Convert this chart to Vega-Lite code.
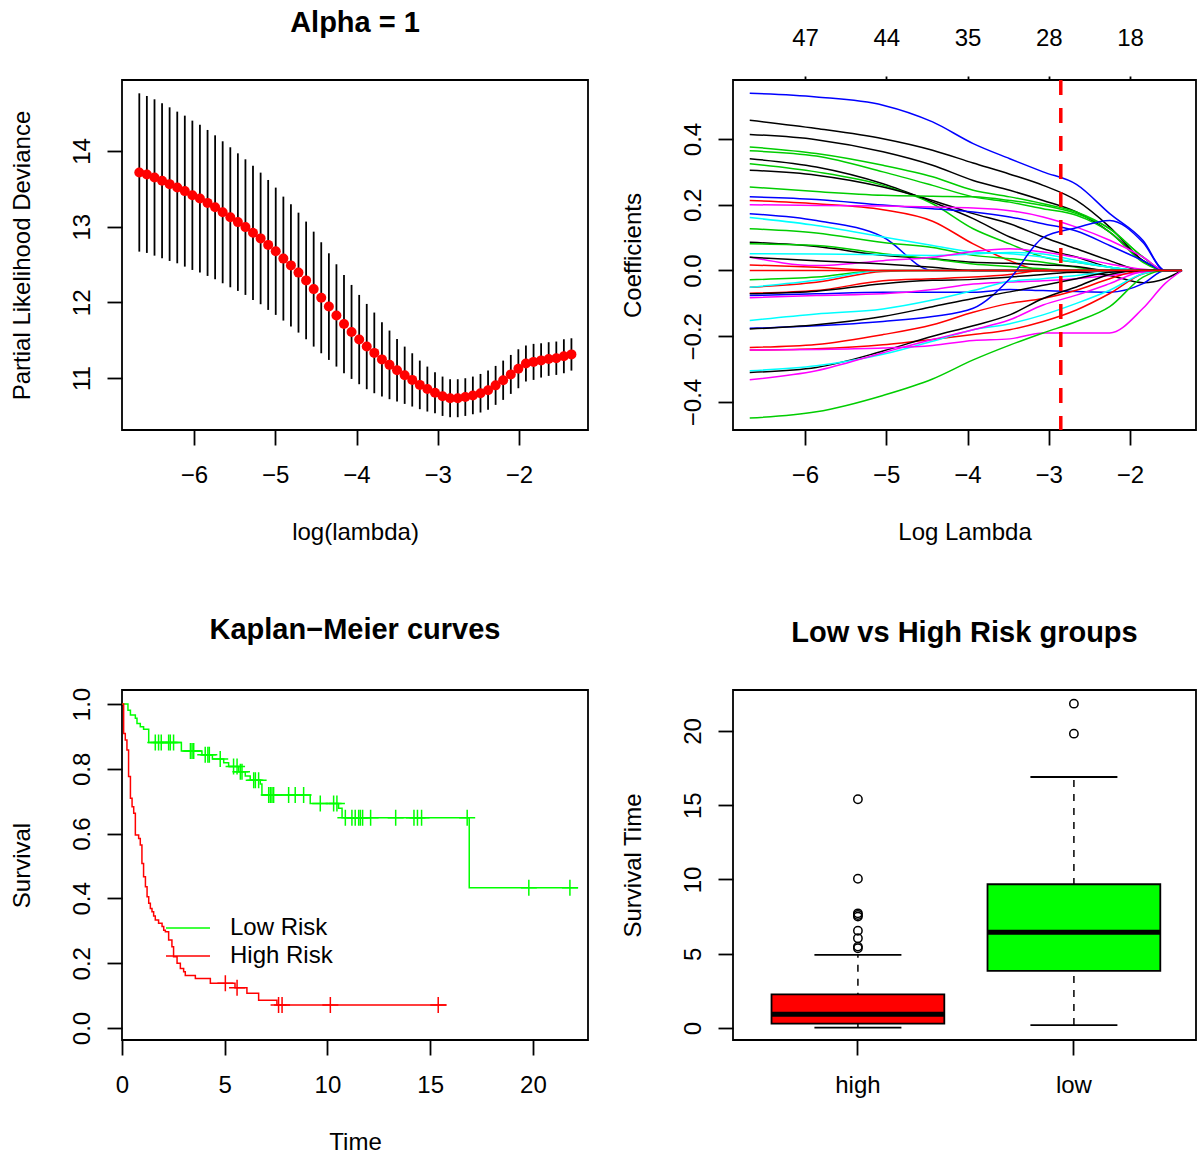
{
"$schema": "https://vega.github.io/schema/vega-lite/v6.json",
"background": "white",
"padding": {"left": 9, "top": 8, "right": 0, "bottom": 0},
"resolve": {"scale": {"color": "independent", "fill": "independent", "stroke": "independent"}, "legend": {"color": "independent", "fill": "independent", "stroke": "independent"}},
"config": {
  "font": "Liberation Sans",
  "view": {"stroke": "black", "strokeWidth": 1.8},
  "axis": {"domain": false, "grid": false, "ticks": true, "tickColor": "black", "tickWidth": 1.8, "tickSize": 15, "labelFont": "Liberation Sans", "labelFontSize": 24, "labelColor": "black", "labelFlush": false, "labelOverlap": false, "titleFont": "Liberation Sans", "titleFontSize": 24, "titleFontWeight": "normal", "titleColor": "black"},
  "axisBottom": {"labelAngle": 0, "labelBaseline": "middle", "labelPadding": 30, "titleY": 102, "titleBaseline": "middle"},
  "axisLeft": {"labelAngle": 270, "labelAlign": "center", "labelBaseline": "middle", "labelPadding": 25, "titleX": -100, "titleAngle": 270, "titleBaseline": "middle", "titleAlign": "center"},
  "title": {"font": "Liberation Sans", "fontSize": 29, "fontWeight": "bold", "color": "black", "frame": "group", "anchor": "middle", "offset": 42, "baseline": "alphabetic"}
},
"datasets": {
  "cv": [
    {"x":-6.673,"lo":12.670,"hi":14.762,"m":13.716},{"x":-6.580,"lo":12.653,"hi":14.727,"m":13.690},{"x":-6.486,"lo":12.617,"hi":14.683,"m":13.650},{"x":-6.393,"lo":12.582,"hi":14.630,"m":13.606},{"x":-6.300,"lo":12.547,"hi":14.577,"m":13.562},{"x":-6.206,"lo":12.516,"hi":14.520,"m":13.518},{"x":-6.113,"lo":12.472,"hi":14.467,"m":13.470},{"x":-6.020,"lo":12.428,"hi":14.401,"m":13.415},{"x":-5.927,"lo":12.393,"hi":14.348,"m":13.371},{"x":-5.833,"lo":12.349,"hi":14.278,"m":13.314},
    {"x":-5.740,"lo":12.305,"hi":14.207,"m":13.256},{"x":-5.647,"lo":12.252,"hi":14.128,"m":13.190},{"x":-5.553,"lo":12.199,"hi":14.049,"m":13.124},{"x":-5.460,"lo":12.151,"hi":13.969,"m":13.060},{"x":-5.367,"lo":12.098,"hi":13.890,"m":12.994},{"x":-5.274,"lo":12.032,"hi":13.806,"m":12.919},{"x":-5.180,"lo":11.975,"hi":13.714,"m":12.845},{"x":-5.087,"lo":11.900,"hi":13.617,"m":12.759},{"x":-4.994,"lo":11.834,"hi":13.516,"m":12.675},{"x":-4.900,"lo":11.759,"hi":13.397,"m":12.578},
    {"x":-4.807,"lo":11.680,"hi":13.296,"m":12.488},{"x":-4.714,"lo":11.600,"hi":13.185,"m":12.393},{"x":-4.620,"lo":11.512,"hi":13.067,"m":12.290},{"x":-4.527,"lo":11.415,"hi":12.934,"m":12.175},{"x":-4.434,"lo":11.327,"hi":12.794,"m":12.061},{"x":-4.340,"lo":11.239,"hi":12.648,"m":11.944},{"x":-4.247,"lo":11.151,"hi":12.503,"m":11.827},{"x":-4.154,"lo":11.063,"hi":12.362,"m":11.713},{"x":-4.061,"lo":10.988,"hi":12.230,"m":11.609},{"x":-3.967,"lo":10.918,"hi":12.098,"m":11.508},
    {"x":-3.874,"lo":10.852,"hi":11.979,"m":11.416},{"x":-3.781,"lo":10.799,"hi":11.865,"m":11.332},{"x":-3.687,"lo":10.755,"hi":11.737,"m":11.246},{"x":-3.594,"lo":10.720,"hi":11.627,"m":11.174},{"x":-3.501,"lo":10.689,"hi":11.517,"m":11.103},{"x":-3.407,"lo":10.658,"hi":11.415,"m":11.037},{"x":-3.314,"lo":10.623,"hi":11.327,"m":10.975},{"x":-3.221,"lo":10.588,"hi":11.230,"m":10.909},{"x":-3.128,"lo":10.557,"hi":11.151,"m":10.854},{"x":-3.034,"lo":10.535,"hi":11.076,"m":10.806},
    {"x":-2.941,"lo":10.499,"hi":11.019,"m":10.759},{"x":-2.848,"lo":10.482,"hi":10.984,"m":10.733},{"x":-2.754,"lo":10.482,"hi":10.984,"m":10.733},{"x":-2.661,"lo":10.499,"hi":10.997,"m":10.748},{"x":-2.568,"lo":10.521,"hi":11.019,"m":10.770},{"x":-2.474,"lo":10.544,"hi":11.054,"m":10.799},{"x":-2.381,"lo":10.579,"hi":11.098,"m":10.839},{"x":-2.288,"lo":10.645,"hi":11.160,"m":10.903},{"x":-2.195,"lo":10.711,"hi":11.230,"m":10.971},{"x":-2.101,"lo":10.790,"hi":11.305,"m":11.048},
    {"x":-2.008,"lo":10.865,"hi":11.380,"m":11.123},{"x":-1.915,"lo":10.953,"hi":11.429,"m":11.191},{"x":-1.821,"lo":10.975,"hi":11.451,"m":11.213},{"x":-1.728,"lo":11.006,"hi":11.459,"m":11.233},{"x":-1.635,"lo":11.028,"hi":11.473,"m":11.251},{"x":-1.541,"lo":11.041,"hi":11.482,"m":11.262},{"x":-1.448,"lo":11.063,"hi":11.512,"m":11.288},{"x":-1.355,"lo":11.098,"hi":11.525,"m":11.312}
  ],
  "coef": [
    {"v":"V01","x":-6.68,"b":0.539},{"v":"V01","x":-5.86,"b":0.528},{"v":"V01","x":-5.04,"b":0.503},{"v":"V01","x":-4.43,"b":0.452},{"v":"V01","x":-3.93,"b":0.386},{"v":"V01","x":-3.48,"b":0.340},{"v":"V01","x":-3.07,"b":0.300},{"v":"V01","x":-2.66,"b":0.262},{"v":"V01","x":-2.25,"b":0.173},{"v":"V01","x":-1.84,"b":0.091},{"v":"V01","x":-1.57,"b":0},{"v":"V01","x":-1.36,"b":0},
    {"v":"V02","x":-6.68,"b":0.457},{"v":"V02","x":-5.86,"b":0.432},{"v":"V02","x":-5.04,"b":0.401},{"v":"V02","x":-4.43,"b":0.366},{"v":"V02","x":-3.93,"b":0.327},{"v":"V02","x":-3.48,"b":0.293},{"v":"V02","x":-3.07,"b":0.259},{"v":"V02","x":-2.66,"b":0.213},{"v":"V02","x":-2.25,"b":0.132},{"v":"V02","x":-1.84,"b":0.030},{"v":"V02","x":-1.57,"b":0},{"v":"V02","x":-1.36,"b":0},
    {"v":"V03","x":-6.68,"b":0.414},{"v":"V03","x":-5.86,"b":0.398},{"v":"V03","x":-5.04,"b":0.361},{"v":"V03","x":-4.43,"b":0.320},{"v":"V03","x":-3.93,"b":0.274},{"v":"V03","x":-3.48,"b":0.244},{"v":"V03","x":-3.07,"b":0.213},{"v":"V03","x":-2.66,"b":0.178},{"v":"V03","x":-2.25,"b":0.117},{"v":"V03","x":-1.84,"b":0.030},{"v":"V03","x":-1.57,"b":0},{"v":"V03","x":-1.36,"b":0},
    {"v":"V04","x":-6.68,"b":0.376},{"v":"V04","x":-5.86,"b":0.356},{"v":"V04","x":-5.04,"b":0.320},{"v":"V04","x":-4.43,"b":0.285},{"v":"V04","x":-3.93,"b":0.244},{"v":"V04","x":-3.48,"b":0.224},{"v":"V04","x":-3.07,"b":0.203},{"v":"V04","x":-2.66,"b":0.178},{"v":"V04","x":-2.25,"b":0.127},{"v":"V04","x":-1.84,"b":0.041},{"v":"V04","x":-1.57,"b":0},{"v":"V04","x":-1.36,"b":0},
    {"v":"V05","x":-6.68,"b":0.364},{"v":"V05","x":-5.86,"b":0.348},{"v":"V05","x":-5.04,"b":0.300},{"v":"V05","x":-4.43,"b":0.259},{"v":"V05","x":-3.93,"b":0.224},{"v":"V05","x":-3.48,"b":0.208},{"v":"V05","x":-3.07,"b":0.188},{"v":"V05","x":-2.66,"b":0.168},{"v":"V05","x":-2.25,"b":0.117},{"v":"V05","x":-1.84,"b":0.025},{"v":"V05","x":-1.57,"b":0},{"v":"V05","x":-1.36,"b":0},
    {"v":"V06","x":-6.68,"b":0.340},{"v":"V06","x":-5.86,"b":0.315},{"v":"V06","x":-5.04,"b":0.264},{"v":"V06","x":-4.43,"b":0.208},{"v":"V06","x":-3.93,"b":0.158},{"v":"V06","x":-3.48,"b":0.102},{"v":"V06","x":-3.07,"b":0.066},{"v":"V06","x":-2.66,"b":0.041},{"v":"V06","x":-2.25,"b":0.010},{"v":"V06","x":-1.84,"b":0},{"v":"V06","x":-1.36,"b":0},
    {"v":"V07","x":-6.68,"b":0.325},{"v":"V07","x":-5.86,"b":0.300},{"v":"V07","x":-5.04,"b":0.259},{"v":"V07","x":-4.43,"b":0.203},{"v":"V07","x":-3.93,"b":0.127},{"v":"V07","x":-3.48,"b":0.081},{"v":"V07","x":-3.07,"b":0.041},{"v":"V07","x":-2.66,"b":0.025},{"v":"V07","x":-2.25,"b":0.010},{"v":"V07","x":-1.84,"b":0},{"v":"V07","x":-1.36,"b":0},
    {"v":"V08","x":-6.68,"b":0.305},{"v":"V08","x":-5.86,"b":0.290},{"v":"V08","x":-5.04,"b":0.254},{"v":"V08","x":-4.43,"b":0.213},{"v":"V08","x":-3.93,"b":0.173},{"v":"V08","x":-3.48,"b":0.142},{"v":"V08","x":-3.07,"b":0.102},{"v":"V08","x":-2.66,"b":0.066},{"v":"V08","x":-2.25,"b":0.030},{"v":"V08","x":-1.84,"b":0},{"v":"V08","x":-1.36,"b":0},
    {"v":"V09","x":-6.68,"b":0.254},{"v":"V09","x":-5.86,"b":0.240},{"v":"V09","x":-5.04,"b":0.229},{"v":"V09","x":-4.43,"b":0.226},{"v":"V09","x":-3.93,"b":0.224},{"v":"V09","x":-3.48,"b":0.213},{"v":"V09","x":-3.07,"b":0.198},{"v":"V09","x":-2.66,"b":0.173},{"v":"V09","x":-2.25,"b":0.127},{"v":"V09","x":-1.84,"b":0.041},{"v":"V09","x":-1.57,"b":0},{"v":"V09","x":-1.36,"b":0},
    {"v":"V10","x":-6.68,"b":0.224},{"v":"V10","x":-5.86,"b":0.216},{"v":"V10","x":-5.04,"b":0.199},{"v":"V10","x":-4.43,"b":0.188},{"v":"V10","x":-3.93,"b":0.178},{"v":"V10","x":-3.48,"b":0.163},{"v":"V10","x":-3.07,"b":0.142},{"v":"V10","x":-2.66,"b":0.120},{"v":"V10","x":-2.25,"b":0.076},{"v":"V10","x":-1.84,"b":0.030},{"v":"V10","x":-1.57,"b":0},{"v":"V10","x":-1.36,"b":0},
    {"v":"V11","x":-6.68,"b":0.213},{"v":"V11","x":-5.86,"b":0.203},{"v":"V11","x":-5.04,"b":0.185},{"v":"V11","x":-4.43,"b":0.150},{"v":"V11","x":-3.93,"b":0.081},{"v":"V11","x":-3.48,"b":0.030},{"v":"V11","x":-3.07,"b":0},{"v":"V11","x":-1.36,"b":0},
    {"v":"V12","x":-6.68,"b":0.200},{"v":"V12","x":-5.86,"b":0.198},{"v":"V12","x":-5.04,"b":0.196},{"v":"V12","x":-4.43,"b":0.193},{"v":"V12","x":-3.93,"b":0.190},{"v":"V12","x":-3.48,"b":0.182},{"v":"V12","x":-3.07,"b":0.163},{"v":"V12","x":-2.66,"b":0.132},{"v":"V12","x":-2.25,"b":0.092},{"v":"V12","x":-1.84,"b":0.041},{"v":"V12","x":-1.57,"b":0},{"v":"V12","x":-1.36,"b":0},
    {"v":"V13","x":-6.68,"b":0.173},{"v":"V13","x":-5.86,"b":0.152},{"v":"V13","x":-5.04,"b":0.102},{"v":"V13","x":-4.43,"b":0},{"v":"V13","x":-1.36,"b":0},
    {"v":"V14","x":-6.68,"b":0.161},{"v":"V14","x":-5.86,"b":0.137},{"v":"V14","x":-5.04,"b":0.102},{"v":"V14","x":-4.43,"b":0.076},{"v":"V14","x":-3.93,"b":0.056},{"v":"V14","x":-3.48,"b":0.051},{"v":"V14","x":-3.07,"b":0.041},{"v":"V14","x":-2.66,"b":0.025},{"v":"V14","x":-2.25,"b":0.010},{"v":"V14","x":-1.84,"b":0},{"v":"V14","x":-1.36,"b":0},
    {"v":"V15","x":-6.68,"b":0.127},{"v":"V15","x":-5.86,"b":0.114},{"v":"V15","x":-5.04,"b":0.085},{"v":"V15","x":-4.43,"b":0.070},{"v":"V15","x":-3.93,"b":0.046},{"v":"V15","x":-3.48,"b":0.036},{"v":"V15","x":-3.07,"b":0.025},{"v":"V15","x":-2.66,"b":0.010},{"v":"V15","x":-2.25,"b":0},{"v":"V15","x":-1.36,"b":0},
    {"v":"V16","x":-6.68,"b":0.086},{"v":"V16","x":-5.86,"b":0.073},{"v":"V16","x":-5.04,"b":0.046},{"v":"V16","x":-4.43,"b":0.036},{"v":"V16","x":-3.93,"b":0.025},{"v":"V16","x":-3.48,"b":0.022},{"v":"V16","x":-3.07,"b":0.017},{"v":"V16","x":-2.66,"b":0.012},{"v":"V16","x":-2.25,"b":0},{"v":"V16","x":-1.36,"b":0},
    {"v":"V17","x":-6.68,"b":0.081},{"v":"V17","x":-5.86,"b":0.076},{"v":"V17","x":-5.04,"b":0.051},{"v":"V17","x":-4.43,"b":0.035},{"v":"V17","x":-3.93,"b":0.020},{"v":"V17","x":-3.48,"b":0.012},{"v":"V17","x":-3.07,"b":0.005},{"v":"V17","x":-2.66,"b":0},{"v":"V17","x":-1.36,"b":0},
    {"v":"V18","x":-6.68,"b":0.051},{"v":"V18","x":-5.86,"b":0.050},{"v":"V18","x":-5.04,"b":0.048},{"v":"V18","x":-4.43,"b":0.046},{"v":"V18","x":-3.93,"b":0.050},{"v":"V18","x":-3.48,"b":0.055},{"v":"V18","x":-3.07,"b":0.050},{"v":"V18","x":-2.66,"b":0.030},{"v":"V18","x":-2.25,"b":0.010},{"v":"V18","x":-1.84,"b":0},{"v":"V18","x":-1.36,"b":0},
    {"v":"V19","x":-6.68,"b":0.041},{"v":"V19","x":-5.86,"b":0.015},{"v":"V19","x":-5.04,"b":0.030},{"v":"V19","x":-4.43,"b":0.040},{"v":"V19","x":-3.93,"b":0.058},{"v":"V19","x":-3.48,"b":0.066},{"v":"V19","x":-3.07,"b":0.056},{"v":"V19","x":-2.66,"b":0.040},{"v":"V19","x":-2.25,"b":0.020},{"v":"V19","x":-1.84,"b":0.004},{"v":"V19","x":-1.57,"b":0},{"v":"V19","x":-1.36,"b":0},
    {"v":"V20","x":-6.68,"b":0.017},{"v":"V20","x":-5.86,"b":0.010},{"v":"V20","x":-5.04,"b":0},{"v":"V20","x":-1.36,"b":0},
    {"v":"V21","x":-6.68,"b":-0.051},{"v":"V21","x":-5.86,"b":-0.036},{"v":"V21","x":-5.04,"b":-0.003},{"v":"V21","x":-4.43,"b":0},{"v":"V21","x":-1.36,"b":0},
    {"v":"V22","x":-6.68,"b":-0.028},{"v":"V22","x":-5.86,"b":-0.020},{"v":"V22","x":-5.04,"b":0},{"v":"V22","x":-1.36,"b":0},
    {"v":"V23","x":-6.68,"b":-0.051},{"v":"V23","x":-5.86,"b":-0.030},{"v":"V23","x":-5.04,"b":0},{"v":"V23","x":-1.36,"b":0},
    {"v":"V24","x":-6.68,"b":-0.069},{"v":"V24","x":-5.86,"b":-0.061},{"v":"V24","x":-5.04,"b":-0.031},{"v":"V24","x":-4.43,"b":-0.025},{"v":"V24","x":-3.93,"b":-0.020},{"v":"V24","x":-3.48,"b":-0.012},{"v":"V24","x":-3.07,"b":0},{"v":"V24","x":-1.36,"b":0},
    {"v":"V25","x":-6.68,"b":-0.071},{"v":"V25","x":-5.86,"b":-0.063},{"v":"V25","x":-5.04,"b":-0.040},{"v":"V25","x":-4.43,"b":-0.030},{"v":"V25","x":-3.93,"b":-0.027},{"v":"V25","x":-3.48,"b":-0.020},{"v":"V25","x":-3.07,"b":-0.012},{"v":"V25","x":-2.66,"b":-0.005},{"v":"V25","x":-2.25,"b":-0.015},{"v":"V25","x":-1.84,"b":-0.037},{"v":"V25","x":-1.57,"b":-0.025},{"v":"V25","x":-1.36,"b":0},
    {"v":"V26","x":-6.68,"b":-0.076},{"v":"V26","x":-5.86,"b":-0.071},{"v":"V26","x":-5.04,"b":-0.066},{"v":"V26","x":-4.43,"b":-0.066},{"v":"V26","x":-3.93,"b":-0.066},{"v":"V26","x":-3.48,"b":-0.058},{"v":"V26","x":-3.07,"b":-0.061},{"v":"V26","x":-2.66,"b":-0.064},{"v":"V26","x":-2.25,"b":-0.066},{"v":"V26","x":-1.84,"b":-0.040},{"v":"V26","x":-1.57,"b":0},{"v":"V26","x":-1.36,"b":0},
    {"v":"V27","x":-6.68,"b":-0.083},{"v":"V27","x":-5.86,"b":-0.076},{"v":"V27","x":-5.04,"b":-0.071},{"v":"V27","x":-4.43,"b":-0.058},{"v":"V27","x":-3.93,"b":-0.041},{"v":"V27","x":-3.48,"b":-0.035},{"v":"V27","x":-3.07,"b":-0.031},{"v":"V27","x":-2.66,"b":-0.025},{"v":"V27","x":-2.25,"b":-0.015},{"v":"V27","x":-1.84,"b":-0.005},{"v":"V27","x":-1.57,"b":0},{"v":"V27","x":-1.36,"b":0},
    {"v":"V28","x":-6.68,"b":-0.152},{"v":"V28","x":-5.86,"b":-0.132},{"v":"V28","x":-5.04,"b":-0.117},{"v":"V28","x":-4.43,"b":-0.090},{"v":"V28","x":-3.93,"b":-0.061},{"v":"V28","x":-3.48,"b":-0.033},{"v":"V28","x":-3.07,"b":-0.025},{"v":"V28","x":-2.66,"b":-0.015},{"v":"V28","x":-2.25,"b":-0.005},{"v":"V28","x":-1.84,"b":0},{"v":"V28","x":-1.36,"b":0},
    {"v":"V29","x":-6.68,"b":-0.176},{"v":"V29","x":-5.86,"b":-0.168},{"v":"V29","x":-5.04,"b":-0.155},{"v":"V29","x":-4.43,"b":-0.140},{"v":"V29","x":-3.93,"b":-0.115},{"v":"V29","x":-3.48,"b":-0.025},{"v":"V29","x":-3.07,"b":0.100},{"v":"V29","x":-2.66,"b":0.130},{"v":"V29","x":-2.25,"b":0.152},{"v":"V29","x":-1.84,"b":0.085},{"v":"V29","x":-1.57,"b":0},{"v":"V29","x":-1.36,"b":0},
    {"v":"V30","x":-6.68,"b":-0.178},{"v":"V30","x":-5.86,"b":-0.165},{"v":"V30","x":-5.04,"b":-0.140},{"v":"V30","x":-4.43,"b":-0.110},{"v":"V30","x":-3.93,"b":-0.085},{"v":"V30","x":-3.48,"b":-0.065},{"v":"V30","x":-3.07,"b":-0.045},{"v":"V30","x":-2.66,"b":-0.025},{"v":"V30","x":-2.25,"b":-0.005},{"v":"V30","x":-1.84,"b":0},{"v":"V30","x":-1.36,"b":0},
    {"v":"V31","x":-6.68,"b":-0.234},{"v":"V31","x":-5.86,"b":-0.225},{"v":"V31","x":-5.04,"b":-0.195},{"v":"V31","x":-4.43,"b":-0.165},{"v":"V31","x":-3.93,"b":-0.127},{"v":"V31","x":-3.48,"b":-0.100},{"v":"V31","x":-3.07,"b":-0.085},{"v":"V31","x":-2.66,"b":-0.060},{"v":"V31","x":-2.25,"b":-0.025},{"v":"V31","x":-1.84,"b":0},{"v":"V31","x":-1.36,"b":0},
    {"v":"V32","x":-6.68,"b":-0.242},{"v":"V32","x":-5.86,"b":-0.238},{"v":"V32","x":-5.04,"b":-0.226},{"v":"V32","x":-4.43,"b":-0.210},{"v":"V32","x":-3.93,"b":-0.195},{"v":"V32","x":-3.48,"b":-0.180},{"v":"V32","x":-3.07,"b":-0.155},{"v":"V32","x":-2.66,"b":-0.120},{"v":"V32","x":-2.25,"b":-0.070},{"v":"V32","x":-1.84,"b":-0.010},{"v":"V32","x":-1.57,"b":0},{"v":"V32","x":-1.36,"b":0},
    {"v":"V33","x":-6.68,"b":-0.310},{"v":"V33","x":-5.86,"b":-0.295},{"v":"V33","x":-5.04,"b":-0.245},{"v":"V33","x":-4.43,"b":-0.200},{"v":"V33","x":-3.93,"b":-0.168},{"v":"V33","x":-3.48,"b":-0.135},{"v":"V33","x":-3.07,"b":-0.085},{"v":"V33","x":-2.66,"b":-0.050},{"v":"V33","x":-2.25,"b":-0.012},{"v":"V33","x":-1.84,"b":0},{"v":"V33","x":-1.36,"b":0},
    {"v":"V34","x":-6.68,"b":-0.305},{"v":"V34","x":-5.86,"b":-0.290},{"v":"V34","x":-5.04,"b":-0.255},{"v":"V34","x":-4.43,"b":-0.215},{"v":"V34","x":-3.93,"b":-0.180},{"v":"V34","x":-3.48,"b":-0.162},{"v":"V34","x":-3.07,"b":-0.135},{"v":"V34","x":-2.66,"b":-0.100},{"v":"V34","x":-2.25,"b":-0.060},{"v":"V34","x":-1.84,"b":-0.010},{"v":"V34","x":-1.57,"b":0},{"v":"V34","x":-1.36,"b":0},
    {"v":"V35","x":-6.68,"b":-0.332},{"v":"V35","x":-5.86,"b":-0.305},{"v":"V35","x":-5.04,"b":-0.250},{"v":"V35","x":-4.43,"b":-0.210},{"v":"V35","x":-3.93,"b":-0.180},{"v":"V35","x":-3.48,"b":-0.150},{"v":"V35","x":-3.07,"b":-0.105},{"v":"V35","x":-2.66,"b":-0.075},{"v":"V35","x":-2.25,"b":-0.040},{"v":"V35","x":-1.84,"b":-0.003},{"v":"V35","x":-1.57,"b":0},{"v":"V35","x":-1.36,"b":0},
    {"v":"V36","x":-6.68,"b":-0.242},{"v":"V36","x":-5.86,"b":-0.240},{"v":"V36","x":-5.04,"b":-0.236},{"v":"V36","x":-4.43,"b":-0.228},{"v":"V36","x":-3.93,"b":-0.213},{"v":"V36","x":-3.48,"b":-0.208},{"v":"V36","x":-3.07,"b":-0.190},{"v":"V36","x":-2.66,"b":-0.190},{"v":"V36","x":-2.25,"b":-0.190},{"v":"V36","x":-1.84,"b":-0.115},{"v":"V36","x":-1.57,"b":-0.040},{"v":"V36","x":-1.36,"b":0},
    {"v":"V37","x":-6.68,"b":-0.449},{"v":"V37","x":-5.86,"b":-0.430},{"v":"V37","x":-5.04,"b":-0.380},{"v":"V37","x":-4.43,"b":-0.330},{"v":"V37","x":-3.93,"b":-0.272},{"v":"V37","x":-3.48,"b":-0.227},{"v":"V37","x":-3.07,"b":-0.190},{"v":"V37","x":-2.66,"b":-0.155},{"v":"V37","x":-2.25,"b":-0.110},{"v":"V37","x":-1.84,"b":-0.020},{"v":"V37","x":-1.57,"b":0},{"v":"V37","x":-1.36,"b":0},
    {"v":"V38","x":-6.68,"b":0.040},{"v":"V38","x":-5.86,"b":0.030},{"v":"V38","x":-5.04,"b":0.020},{"v":"V38","x":-4.43,"b":0.010},{"v":"V38","x":-3.93,"b":0},{"v":"V38","x":-1.36,"b":0},
    {"v":"V39","x":-6.68,"b":0},{"v":"V39","x":-1.36,"b":0}
  ],
  "lmin": [{"x": -2.852}],
  "km": [
    {"risk":"Low Risk","t":0,"s":1},{"risk":"Low Risk","t":0.29,"s":0.981},{"risk":"Low Risk","t":0.41,"s":0.966},{"risk":"Low Risk","t":0.65,"s":0.956},{"risk":"Low Risk","t":0.73,"s":0.94},{"risk":"Low Risk","t":0.89,"s":0.93},{"risk":"Low Risk","t":1.05,"s":0.922},{"risk":"Low Risk","t":1.3,"s":0.881},{"risk":"Low Risk","t":2.89,"s":0.855},{"risk":"Low Risk","t":3.89,"s":0.843},{"risk":"Low Risk","t":4.4,"s":0.83},{"risk":"Low Risk","t":4.95,"s":0.819},{"risk":"Low Risk","t":5.19,"s":0.807},{"risk":"Low Risk","t":5.68,"s":0.791},{"risk":"Low Risk","t":6.0,"s":0.778},{"risk":"Low Risk","t":6.24,"s":0.765},{"risk":"Low Risk","t":6.73,"s":0.753},{"risk":"Low Risk","t":6.81,"s":0.719},{"risk":"Low Risk","t":9.16,"s":0.693},{"risk":"Low Risk","t":10.54,"s":0.678},{"risk":"Low Risk","t":10.71,"s":0.649},{"risk":"Low Risk","t":16.9,"s":0.433},{"risk":"Low Risk","t":22.2,"s":0.433},
    {"risk":"High Risk","t":0,"s":1},{"risk":"High Risk","t":0.08,"s":0.909},{"risk":"High Risk","t":0.16,"s":0.889},{"risk":"High Risk","t":0.24,"s":0.858},{"risk":"High Risk","t":0.32,"s":0.776},{"risk":"High Risk","t":0.41,"s":0.709},{"risk":"High Risk","t":0.49,"s":0.683},{"risk":"High Risk","t":0.57,"s":0.663},{"risk":"High Risk","t":0.65,"s":0.596},{"risk":"High Risk","t":0.81,"s":0.585},{"risk":"High Risk","t":0.89,"s":0.565},{"risk":"High Risk","t":0.97,"s":0.508},{"risk":"High Risk","t":1.05,"s":0.467},{"risk":"High Risk","t":1.14,"s":0.436},{"risk":"High Risk","t":1.22,"s":0.405},{"risk":"High Risk","t":1.3,"s":0.385},{"risk":"High Risk","t":1.38,"s":0.369},{"risk":"High Risk","t":1.46,"s":0.359},{"risk":"High Risk","t":1.54,"s":0.346},{"risk":"High Risk","t":1.62,"s":0.333},{"risk":"High Risk","t":1.78,"s":0.323},{"risk":"High Risk","t":1.95,"s":0.313},{"risk":"High Risk","t":2.03,"s":0.302},{"risk":"High Risk","t":2.11,"s":0.297},{"risk":"High Risk","t":2.27,"s":0.272},{"risk":"High Risk","t":2.43,"s":0.251},{"risk":"High Risk","t":2.51,"s":0.22},{"risk":"High Risk","t":2.68,"s":0.2},{"risk":"High Risk","t":2.84,"s":0.184},{"risk":"High Risk","t":3.0,"s":0.174},{"risk":"High Risk","t":3.08,"s":0.162},{"risk":"High Risk","t":3.57,"s":0.153},{"risk":"High Risk","t":4.3,"s":0.138},{"risk":"High Risk","t":5.5,"s":0.124},{"risk":"High Risk","t":6.08,"s":0.107},{"risk":"High Risk","t":6.65,"s":0.086},{"risk":"High Risk","t":7.54,"s":0.071},{"risk":"High Risk","t":15.8,"s":0.071}
  ],
  "cens": [
    {"risk":"Low Risk","t":1.62,"s":0.881},{"risk":"Low Risk","t":1.78,"s":0.881},{"risk":"Low Risk","t":1.91,"s":0.881},{"risk":"Low Risk","t":2.27,"s":0.881},{"risk":"Low Risk","t":2.35,"s":0.881},{"risk":"Low Risk","t":2.51,"s":0.881},
    {"risk":"Low Risk","t":3.33,"s":0.855},{"risk":"Low Risk","t":3.41,"s":0.855},{"risk":"Low Risk","t":3.49,"s":0.855},
    {"risk":"Low Risk","t":4.05,"s":0.843},{"risk":"Low Risk","t":4.18,"s":0.843},{"risk":"Low Risk","t":4.25,"s":0.843},
    {"risk":"Low Risk","t":4.78,"s":0.83},{"risk":"Low Risk","t":5.43,"s":0.807},{"risk":"Low Risk","t":5.6,"s":0.807},{"risk":"Low Risk","t":5.76,"s":0.791},{"risk":"Low Risk","t":5.84,"s":0.791},
    {"risk":"Low Risk","t":6.41,"s":0.765},{"risk":"Low Risk","t":6.49,"s":0.765},{"risk":"Low Risk","t":6.65,"s":0.765},
    {"risk":"Low Risk","t":7.14,"s":0.719},{"risk":"Low Risk","t":7.22,"s":0.719},{"risk":"Low Risk","t":7.3,"s":0.719},{"risk":"Low Risk","t":7.38,"s":0.719},{"risk":"Low Risk","t":8.11,"s":0.719},{"risk":"Low Risk","t":8.43,"s":0.719},{"risk":"Low Risk","t":8.84,"s":0.719},
    {"risk":"Low Risk","t":9.65,"s":0.693},{"risk":"Low Risk","t":10.3,"s":0.693},{"risk":"Low Risk","t":10.46,"s":0.693},
    {"risk":"Low Risk","t":10.87,"s":0.649},{"risk":"Low Risk","t":11.19,"s":0.649},{"risk":"Low Risk","t":11.35,"s":0.649},{"risk":"Low Risk","t":11.52,"s":0.649},{"risk":"Low Risk","t":11.6,"s":0.649},{"risk":"Low Risk","t":11.71,"s":0.649},{"risk":"Low Risk","t":12.1,"s":0.649},{"risk":"Low Risk","t":13.32,"s":0.649},{"risk":"Low Risk","t":14.21,"s":0.649},{"risk":"Low Risk","t":14.38,"s":0.649},{"risk":"Low Risk","t":14.58,"s":0.649},{"risk":"Low Risk","t":16.8,"s":0.649},
    {"risk":"Low Risk","t":19.8,"s":0.433},{"risk":"Low Risk","t":21.8,"s":0.433},
    {"risk":"High Risk","t":5.03,"s":0.138},{"risk":"High Risk","t":5.6,"s":0.124},{"risk":"High Risk","t":7.62,"s":0.071},{"risk":"High Risk","t":7.79,"s":0.071},{"risk":"High Risk","t":10.14,"s":0.071},{"risk":"High Risk","t":15.39,"s":0.071}
  ],
  "box": [
    {"grp":"high","lo":0.02,"q1":0.29,"med":0.92,"q3":2.27,"hi":4.92},
    {"grp":"low","lo":0.2,"q1":3.84,"med":6.44,"q3":9.68,"hi":16.9}
  ],
  "out": [
    {"grp":"high","y":15.40},{"grp":"high","y":10.05},{"grp":"high","y":7.72},{"grp":"high","y":7.61},{"grp":"high","y":7.50},{"grp":"high","y":6.55},{"grp":"high","y":6.04},{"grp":"high","y":5.48},{"grp":"high","y":5.37},
    {"grp":"low","y":21.84},{"grp":"low","y":19.82}
  ]
},
"columns": 2,
"spacing": {"row": 260, "column": 145},
"bounds": "flush",
"concat": [
  {
    "width": 466, "height": 350,
    "title": {"text": "Alpha = 1"},
    "data": {"name": "cv"},
    "layer": [
      {"mark": {"type": "rule", "color": "black", "strokeWidth": 1.8},
       "encoding": {
         "x": {"field": "x", "type": "quantitative", "scale": {"domain": [-6.886, -1.151], "nice": false, "zero": false}, "axis": {"values": [-6, -5, -4, -3, -2], "format": "d", "title": "log(lambda)"}},
         "y": {"field": "lo", "type": "quantitative", "scale": {"domain": [10.313, 14.938], "nice": false, "zero": false}, "axis": {"values": [11, 12, 13, 14], "format": "d", "title": "Partial Likelihood Deviance"}},
         "y2": {"field": "hi"}
       }},
      {"mark": {"type": "point", "filled": true, "color": "#FF0000", "size": 100, "opacity": 1},
       "encoding": {
         "x": {"field": "x", "type": "quantitative"},
         "y": {"field": "m", "type": "quantitative"}
       }}
    ]
  },
  {
    "width": 463, "height": 350,
    "resolve": {"axis": {"x": "independent"}},
    "layer": [
      {"data": {"name": "coef"},
       "mark": {"type": "line", "strokeWidth": 1.5, "interpolate": "monotone"},
       "encoding": {
         "x": {"field": "x", "type": "quantitative", "scale": {"domain": [-6.886, -1.188], "nice": false, "zero": false}, "axis": {"values": [-6, -5, -4, -3, -2], "format": "d", "title": "Log Lambda"}},
         "y": {"field": "b", "type": "quantitative", "scale": {"domain": [-0.4852, 0.5795], "nice": false, "zero": false}, "axis": {"values": [-0.4, -0.2, 0, 0.2, 0.4], "format": ".1f", "title": "Coefficients"}},
         "color": {"field": "v", "type": "nominal", "legend": null, "scale": {
           "domain": ["V01","V02","V03","V04","V05","V06","V07","V08","V09","V10","V11","V12","V13","V14","V15","V16","V17","V18","V19","V20","V21","V22","V23","V24","V25","V26","V27","V28","V29","V30","V31","V32","V33","V34","V35","V36","V37","V38","V39"],
           "range": ["#0000FF","#000000","#000000","#00CD00","#00CD00","#000000","#00CD00","#000000","#00CD00","#0000FF","#FF0000","#FF00FF","#0000FF","#00FFFF","#00CD00","#000000","#00CD00","#00FFFF","#FF00FF","#FF0000","#FF0000","#00CD00","#00FFFF","#FF0000","#000000","#0000FF","#FF00FF","#00FFFF","#0000FF","#000000","#FF0000","#FF0000","#000000","#00FFFF","#FF00FF","#FF00FF","#00CD00","#000000","#FF0000"]}}
       }},
      {"data": {"name": "lmin"},
       "mark": {"type": "rule", "color": "#FF0000", "strokeWidth": 3.5, "strokeDash": [15, 13]},
       "encoding": {
         "x": {"field": "x", "type": "quantitative", "scale": {"domain": [-6.886, -1.188], "nice": false, "zero": false},
               "axis": {"orient": "top", "values": [-6, -5, -4, -3, -2], "title": null, "tickSize": 4, "labelPadding": 38, "labelBaseline": "middle", "labelAngle": 0,
                        "labelExpr": "datum.value == -6 ? '47' : datum.value == -5 ? '44' : datum.value == -4 ? '35' : datum.value == -3 ? '28' : '18'"}}
       }}
    ]
  },
  {
    "width": 466, "height": 350,
    "title": {"text": "Kaplan−Meier curves"},
    "resolve": {"legend": {"color": "independent", "stroke": "independent"}},
    "layer": [
      {"data": {"name": "km"},
       "mark": {"type": "line", "interpolate": "step-after", "strokeWidth": 1.5},
       "encoding": {
         "x": {"field": "t", "type": "quantitative", "scale": {"domain": [0, 22.68], "nice": false, "zero": false}, "axis": {"values": [0, 5, 10, 15, 20], "format": "d", "title": "Time"}},
         "y": {"field": "s", "type": "quantitative", "scale": {"domain": [-0.037, 1.0432], "nice": false, "zero": false}, "axis": {"values": [0, 0.2, 0.4, 0.6, 0.8, 1.0], "format": ".1f", "title": "Survival"}},
         "color": {"field": "risk", "type": "nominal", "scale": {"domain": ["Low Risk", "High Risk"], "range": ["#00FF00", "#FF0000"]},
                   "legend": {"values": ["Low Risk"], "orient": "none", "legendX": 43, "legendY": 215, "title": null, "symbolType": "stroke", "symbolSize": 1936, "symbolStrokeWidth": 1.5, "labelFontSize": 24, "labelFont": "Liberation Sans", "labelColor": "black", "labelOffset": 19, "labelLimit": 0, "labelBaseline": "middle"}}
       }},
      {"data": {"name": "cens"},
       "mark": {"type": "point", "shape": "M-1,0H1M0,-1V1", "filled": false, "size": 256, "strokeWidth": 1.5, "opacity": 1},
       "encoding": {
         "x": {"field": "t", "type": "quantitative"},
         "y": {"field": "s", "type": "quantitative"},
         "stroke": {"field": "risk", "type": "nominal", "scale": {"domain": ["Low Risk", "High Risk"], "range": ["#00FF00", "#FF0000"]},
                    "legend": {"values": ["High Risk"], "orient": "none", "legendX": 43, "legendY": 243, "title": null, "symbolType": "stroke", "symbolSize": 1936, "symbolStrokeWidth": 1.5, "labelFontSize": 24, "labelFont": "Liberation Sans", "labelColor": "black", "labelOffset": 19, "labelLimit": 0, "labelBaseline": "middle"}}
       }}
    ]
  },
  {
    "width": 463, "height": 350,
    "title": {"text": "Low vs High Risk groups"},
    "layer": [
      {"data": {"name": "box"},
       "mark": {"type": "rule", "color": "black", "strokeWidth": 1.5, "strokeDash": [7, 7]},
       "encoding": {
         "x": {"field": "grp", "type": "nominal", "scale": {"type": "band", "domain": ["high", "low"], "paddingInner": 0.2, "paddingOuter": 0.1718, "align": 0.519}, "axis": {"title": null, "labelAngle": 0}},
         "y": {"field": "lo", "type": "quantitative", "scale": {"domain": [-0.808, 22.76], "nice": false, "zero": false}, "axis": {"values": [0, 5, 10, 15, 20], "format": "d", "title": "Survival Time"}},
         "y2": {"field": "hi"}
       }},
      {"data": {"name": "box"},
       "mark": {"type": "tick", "color": "black", "size": 87, "thickness": 1.8, "opacity": 1},
       "encoding": {
         "x": {"field": "grp", "type": "nominal"},
         "y": {"field": "lo", "type": "quantitative"}
       }},
      {"data": {"name": "box"},
       "mark": {"type": "tick", "color": "black", "size": 87, "thickness": 1.8, "opacity": 1},
       "encoding": {
         "x": {"field": "grp", "type": "nominal"},
         "y": {"field": "hi", "type": "quantitative"}
       }},
      {"data": {"name": "box"},
       "mark": {"type": "bar", "stroke": "black", "strokeWidth": 1.8, "opacity": 1},
       "encoding": {
         "x": {"field": "grp", "type": "nominal"},
         "y": {"field": "q1", "type": "quantitative"},
         "y2": {"field": "q3"},
         "fill": {"field": "grp", "type": "nominal", "scale": {"domain": ["high", "low"], "range": ["#FF0000", "#00FF00"]}, "legend": null}
       }},
      {"data": {"name": "box"},
       "mark": {"type": "tick", "color": "black", "size": 173, "thickness": 5, "opacity": 1},
       "encoding": {
         "x": {"field": "grp", "type": "nominal"},
         "y": {"field": "med", "type": "quantitative"}
       }},
      {"data": {"name": "out"},
       "mark": {"type": "point", "shape": "circle", "filled": false, "color": "black", "size": 70, "strokeWidth": 1.5, "opacity": 1},
       "encoding": {
         "x": {"field": "grp", "type": "nominal"},
         "y": {"field": "y", "type": "quantitative"}
       }}
    ]
  }
]
}
